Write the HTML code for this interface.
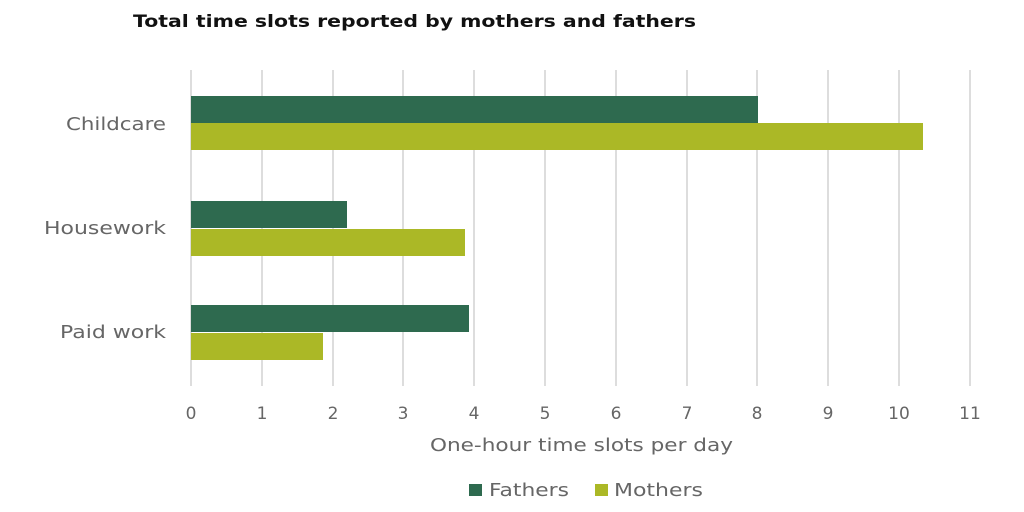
<!DOCTYPE html>
<html><head><meta charset="utf-8"><style>
body{margin:0;background:#fff;}
svg{display:block;font-family:"DejaVu Sans","Liberation Sans",sans-serif;}
</style></head><body>
<svg width="1024" height="512" viewBox="0 0 1024 512">
<text x="133" y="27" font-size="17" font-weight="bold" fill="#111" textLength="563" lengthAdjust="spacingAndGlyphs">Total time slots reported by mothers and fathers</text>
<g stroke="#dddddd" stroke-width="2">
<line x1="191" y1="70" x2="191" y2="386"/>
<line x1="262" y1="70" x2="262" y2="386"/>
<line x1="333" y1="70" x2="333" y2="386"/>
<line x1="403" y1="70" x2="403" y2="386"/>
<line x1="474" y1="70" x2="474" y2="386"/>
<line x1="545" y1="70" x2="545" y2="386"/>
<line x1="616" y1="70" x2="616" y2="386"/>
<line x1="687" y1="70" x2="687" y2="386"/>
<line x1="757" y1="70" x2="757" y2="386"/>
<line x1="828" y1="70" x2="828" y2="386"/>
<line x1="899" y1="70" x2="899" y2="386"/>
<line x1="970" y1="70" x2="970" y2="386"/>
</g>
<g fill="#2e6a4f">
<rect x="191" y="96" width="567" height="27"/>
<rect x="191" y="201" width="156" height="27"/>
<rect x="191" y="305" width="278" height="27"/>
</g>
<g fill="#abb826">
<rect x="191" y="123" width="732" height="27"/>
<rect x="191" y="229" width="274" height="27"/>
<rect x="191" y="333" width="132" height="27"/>
</g>
<g font-size="18" fill="#666">
<text x="66" y="130" textLength="100" lengthAdjust="spacingAndGlyphs">Childcare</text>
<text x="44" y="234" textLength="122" lengthAdjust="spacingAndGlyphs">Housework</text>
<text x="60" y="338" textLength="106" lengthAdjust="spacingAndGlyphs">Paid work</text>
</g>
<g font-size="17" fill="#666" text-anchor="middle">
<text x="191" y="419">0</text><text x="262" y="419">1</text><text x="333" y="419">2</text>
<text x="403" y="419">3</text><text x="474" y="419">4</text><text x="545" y="419">5</text>
<text x="616" y="419">6</text><text x="687" y="419">7</text><text x="757" y="419">8</text>
<text x="828" y="419">9</text><text x="899" y="419">10</text><text x="970" y="419">11</text>
</g>
<text x="430" y="451" font-size="18" fill="#666" textLength="303" lengthAdjust="spacingAndGlyphs">One-hour time slots per day</text>
<rect x="469" y="484" width="13" height="12" fill="#2e6a4f"/>
<text x="489" y="496" font-size="18" fill="#666" textLength="80" lengthAdjust="spacingAndGlyphs">Fathers</text>
<rect x="595" y="484" width="13" height="12" fill="#abb826"/>
<text x="614" y="496" font-size="18" fill="#666" textLength="89" lengthAdjust="spacingAndGlyphs">Mothers</text>
</svg>
</body></html>
